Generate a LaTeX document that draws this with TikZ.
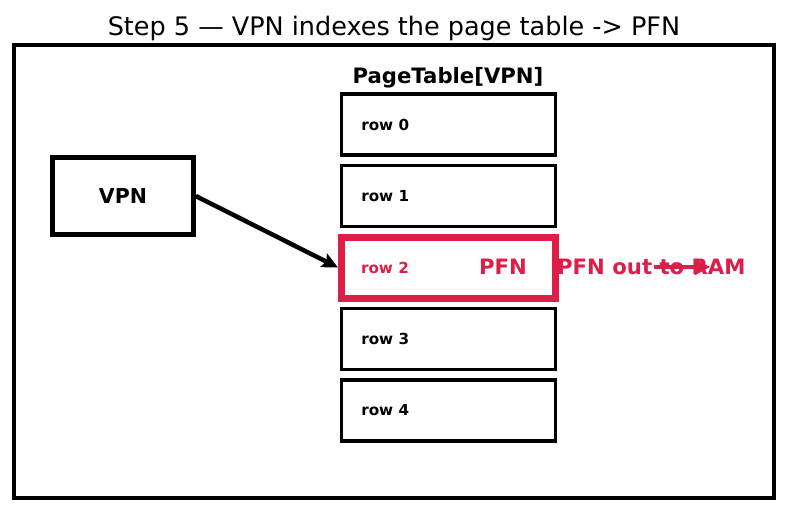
\documentclass[tikz,border=0pt]{standalone}
\usepackage{fontspec}
\setmainfont{DejaVu Sans}
\usepackage{tikz}
\usetikzlibrary{arrows.meta, positioning, calc}
\definecolor{hotred}{RGB}{220,30,72}

\begin{document}
\begin{tikzpicture}[
  x=1pt, y=-1pt,
  frame/.style={draw, line width=4.5pt},
  vpnbox/.style={draw, line width=4.5pt, minimum width=141pt, minimum height=77pt,
                 font=\fontsize{20.5}{24}\selectfont\bfseries},
  row/.style={draw, line width=3.5pt, minimum width=214pt, minimum height=61pt},
  hitrow/.style={row, draw=hotred, line width=7pt},
  rowlabel/.style={anchor=west, font=\fontsize{15.2}{18}\selectfont\bfseries},
  big/.style={font=\fontsize{21.2}{25}\selectfont\bfseries},
  ptr/.style={-{Stealth[length=16pt, width=15pt, inset=3pt]}, line width=4.5pt},
  outptr/.style={-{Stealth[length=15pt, width=16pt, inset=2pt]}, line width=4pt, hotred}
]
\useasboundingbox (0,0) rectangle (787,512);

%% Title and outer frame
\node[font=\fontsize{25.5}{30}\selectfont] (title) at (394,28)
  {Step 5 — VPN indexes the page table -> PFN};
\draw[frame] (14,45) rectangle (774,498);

%% VPN box
\node[vpnbox] (vpn) at (123,196) {VPN};

%% Page table rows
\node[big] (ptname) at (448,78) {PageTable[VPN]};
\node[row]    (row0) at (448.5,124.5) {};
\node[row]    (row1) at (448.5,196) {};
\node[hitrow] (row2) at (448.5,267.5) {};
\node[row]    (row3) at (448.5,339) {};
\node[row]    (row4) at (448.5,410.5) {};

\node[rowlabel] (lab0) at ($(row0.west)+(18,0)$) {row 0};
\node[rowlabel] (lab1) at ($(row1.west)+(18,0)$) {row 1};
\node[rowlabel, hotred] (lab2) at ($(row2.west)+(19.5,0)$) {row 2};
\node[rowlabel] (lab3) at ($(row3.west)+(18,0)$) {row 3};
\node[rowlabel] (lab4) at ($(row4.west)+(18,0)$) {row 4};

%% Hit: PFN goes out
\node[big, hotred] (pfn) at (503,267) {PFN};
\node[big, hotred, anchor=west, inner sep=0pt] (out) at (557,267) {PFN out to RAM};
\coordinate (outfrom) at (654,267);
\coordinate (outto)   at (710,267);

%% Arrows
\draw[ptr] (vpn.east) -- (row2.west);
\draw[outptr] (outfrom) -- (outto);

\end{tikzpicture}
\end{document}
